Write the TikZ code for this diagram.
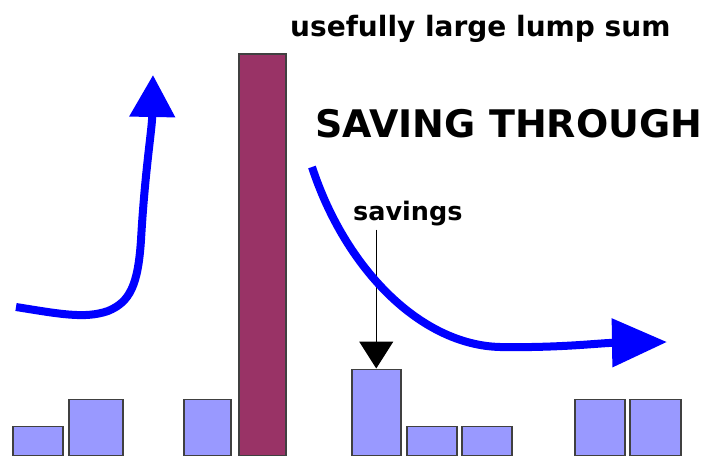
\documentclass[tikz,border=0pt]{standalone}
\usepackage{fontspec}
\setmainfont{DejaVu Sans}
\usetikzlibrary{arrows.meta}
\definecolor{barblue}{HTML}{9999FF}
\definecolor{lumpred}{HTML}{993366}

\begin{document}
\begin{tikzpicture}[
  x=1pt, y=-1pt,
  bar/.style={draw=black!75, line width=1.5pt, fill=barblue, inner sep=0pt, anchor=south west},
  lump/.style={bar, fill=lumpred},
  caption/.style={inner sep=0pt, anchor=base west, font=\bfseries\fontsize{28}{30}\selectfont},
  title/.style={inner sep=0pt, anchor=base west, font=\bfseries\fontsize{38}{40}\selectfont},
  flow/.style={draw=blue, line width=8pt}
]
\useasboundingbox (0,0) rectangle (704,457);

% income / spending bars
\node[bar]  (b1) at (12,456)  [minimum width=50pt, minimum height=29pt] {};
\node[bar]  (b2) at (68,456)  [minimum width=54pt, minimum height=56pt] {};
\node[bar]  (b3) at (183,456) [minimum width=47pt, minimum height=56pt] {};
\node[lump] (sum) at (238,456) [minimum width=47pt, minimum height=401pt] {};
\node[bar]  (b5) at (351,456) [minimum width=49pt, minimum height=86pt] {};
\node[bar]  (b6) at (406,456) [minimum width=50pt, minimum height=29pt] {};
\node[bar]  (b7) at (461,456) [minimum width=50pt, minimum height=29pt] {};
\node[bar]  (b8) at (574,456) [minimum width=50pt, minimum height=56pt] {};
\node[bar]  (b9) at (629,456) [minimum width=51pt, minimum height=56pt] {};

% labels
\node[caption] (lumplbl) at (290,37)  {usefully large lump sum};
\node[title]   (head)    at (315,138) {SAVING THROUGH};
\node[caption, font=\bfseries\fontsize{25.5}{27}\selectfont] (savlbl) at (353,221) {savings};

\draw[line width=1.2pt, -{Triangle[length=27pt, width=34pt]}, shorten <=3pt]
  (savlbl.south -| b5.north) -- (b5.north);

% rising and falling flows
\draw[flow, -{Triangle[length=42pt, width=44pt]}]
  (16,307) .. controls (60,314) and (85,319) .. (108,311)
  .. controls (130,302) and (138,285) .. (141,240)
  .. controls (145,170) and (152,130) .. (153,75);
\draw[flow, -{Triangle[length=55pt, width=47pt]}]
  (312,167) .. controls (345,268) and (420,345) .. (500,347)
  .. controls (560,348) and (600,343) .. (667,342);
\end{tikzpicture}
\end{document}
